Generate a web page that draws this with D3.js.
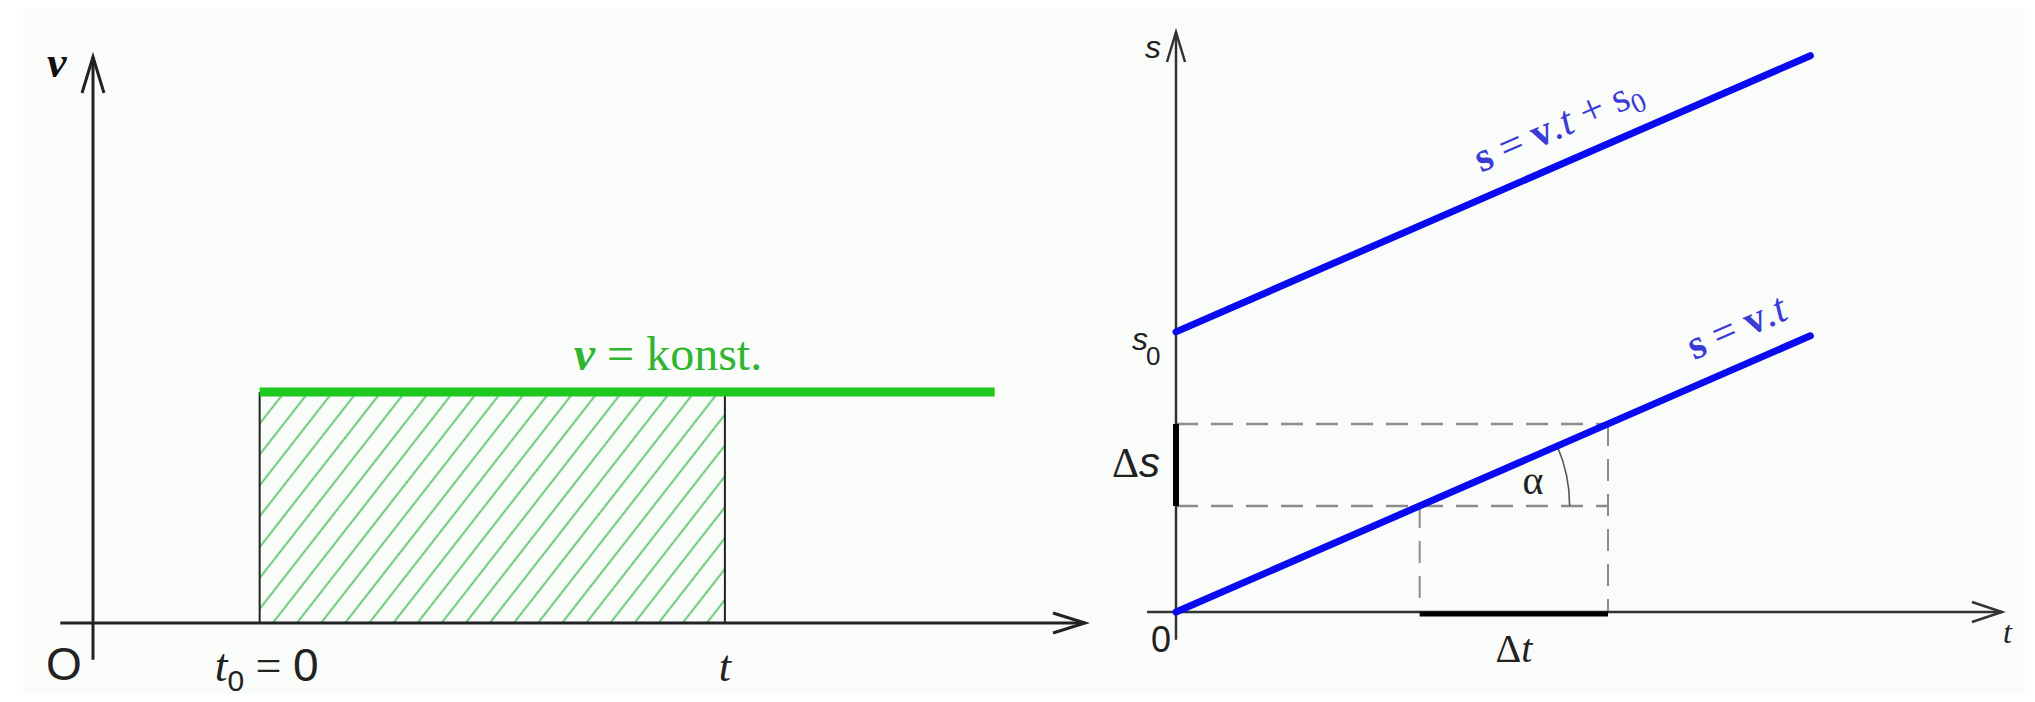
<!DOCTYPE html>
<html>
<head>
<meta charset="utf-8">
<script src="https://cdn.jsdelivr.net/npm/d3@7"></script>
<style>
  html, body { margin: 0; padding: 0; background: #fff; }
  svg { display: block; }
</style>
</head>
<body>
<svg id="chart" width="2035" height="702"></svg>
<script>
// --- left diagram: v(t) ---
const vAxisT = [-0.33, 10];
const vAxisV = [-0.65, 10];
const vConst = 4.08;
const vLineT = [1.68, 9.09];
const areaT = [1.68, 6.37];

// --- right diagram: s(t) ---
const sAxisT = [-0.35, 10];
const sAxisS = [-0.48, 10];
const speed = 0.62;
const lineEndT = 7.68;
const sLines = [
  { s0: 4.83, labelT: 3.81 },
  { s0: 0, labelT: 6.39 }
];
const deltaT = [2.95, 5.23];

const svg = d3.select("#chart");

svg.append("rect")
  .attr("x", 23).attr("y", 8)
  .attr("width", 2002).attr("height", 686)
  .attr("fill", "#fafcfa");

const xL = d3.scaleLinear().domain([0, 10]).range([93, 1085]);
const yL = d3.scaleLinear().domain([0, 10]).range([623, 57]);
const xR = d3.scaleLinear().domain([0, 10]).range([1176, 2002]);
const yR = d3.scaleLinear().domain([0, 10]).range([612, 32]);

const serif = "'Liberation Serif', 'Times New Roman', serif";
const sans = "'Liberation Sans', Arial, sans-serif";

// hatch pattern for the area under v
const defs = svg.append("defs");
defs.append("pattern")
  .attr("id", "hatch")
  .attr("patternUnits", "userSpaceOnUse")
  .attr("width", 19).attr("height", 19)
  .attr("patternTransform", "rotate(38)")
  .append("line")
  .attr("x1", 9.5).attr("y1", 0).attr("x2", 9.5).attr("y2", 19)
  .attr("stroke", "#4fc060").attr("stroke-width", 1.7);

// arrow helpers
function arrowX(g, x, y, len, half, color, w) {
  g.append("path")
    .attr("d", `M${x - len},${y - half}L${x},${y}L${x - len},${y + half}`)
    .attr("fill", "none").attr("stroke", color).attr("stroke-width", w);
}
function arrowY(g, x, y, len, half, color, w) {
  g.append("path")
    .attr("d", `M${x - half},${y + len}L${x},${y}L${x + half},${y + len}`)
    .attr("fill", "none").attr("stroke", color).attr("stroke-width", w);
}

// ===== left =====
const gL = svg.append("g");

gL.append("rect")
  .attr("x", xL(areaT[0])).attr("y", yL(vConst))
  .attr("width", xL(areaT[1]) - xL(areaT[0]))
  .attr("height", yL(0) - yL(vConst))
  .attr("fill", "url(#hatch)");

gL.selectAll(".edge")
  .data(areaT)
  .join("line")
  .attr("x1", d => xL(d)).attr("x2", d => xL(d))
  .attr("y1", yL(vConst)).attr("y2", yL(0))
  .attr("stroke", "#222").attr("stroke-width", 2);

gL.append("line")
  .attr("x1", xL(vAxisT[0])).attr("x2", xL(vAxisT[1]))
  .attr("y1", yL(0)).attr("y2", yL(0))
  .attr("stroke", "#222").attr("stroke-width", 3);
gL.append("line")
  .attr("x1", xL(0)).attr("x2", xL(0))
  .attr("y1", yL(vAxisV[0])).attr("y2", yL(vAxisV[1]))
  .attr("stroke", "#222").attr("stroke-width", 3);
arrowX(gL, xL(vAxisT[1]), yL(0), 32, 10, "#222", 3);
arrowY(gL, xL(0), yL(vAxisV[1]), 36, 11, "#222", 3);

gL.append("line")
  .attr("x1", xL(vLineT[0])).attr("x2", xL(vLineT[1]))
  .attr("y1", yL(vConst)).attr("y2", yL(vConst))
  .attr("stroke", "#1ec81e").attr("stroke-width", 9);

gL.append("text")
  .attr("x", xL(0) - 46).attr("y", yL(10) + 20)
  .attr("font-family", serif).attr("font-size", 44)
  .attr("font-weight", "bold").attr("font-style", "italic")
  .attr("fill", "#111").text("v");

const konst = gL.append("text")
  .attr("x", 668).attr("y", yL(vConst) - 22)
  .attr("text-anchor", "middle")
  .attr("font-family", serif).attr("font-size", 48)
  .attr("fill", "#2fb52f");
konst.append("tspan").attr("font-weight", "bold").attr("font-style", "italic").text("v");
konst.append("tspan").text(" = konst.");

gL.append("text")
  .attr("x", xL(0) - 29).attr("y", 680)
  .attr("text-anchor", "middle")
  .attr("font-family", sans).attr("font-size", 46)
  .attr("fill", "#222").text("O");

const t0 = gL.append("text")
  .attr("x", xL(areaT[0]) + 7).attr("y", 681)
  .attr("text-anchor", "middle")
  .attr("font-size", 46).attr("fill", "#222");
t0.append("tspan").attr("font-family", serif).attr("font-style", "italic").text("t");
t0.append("tspan").attr("font-family", sans).attr("font-size", 30).attr("dy", 10).text("0");
t0.append("tspan").attr("font-family", serif).attr("dy", -10).text(" = ");
t0.append("tspan").attr("font-family", sans).text("0");

gL.append("text")
  .attr("x", xL(areaT[1])).attr("y", 681)
  .attr("text-anchor", "middle")
  .attr("font-family", serif).attr("font-style", "italic")
  .attr("font-size", 44).attr("fill", "#222").text("t");

// ===== right =====
const gR = svg.append("g");

const dash = "22,13";
const s1 = speed * deltaT[0];
const s2 = speed * deltaT[1];

gR.selectAll(".hdash")
  .data([s2, s1])
  .join("line")
  .attr("x1", xR(0)).attr("x2", xR(deltaT[1]))
  .attr("y1", d => yR(d)).attr("y2", d => yR(d))
  .attr("stroke", "#8c8c8c").attr("stroke-width", 2.5)
  .attr("stroke-dasharray", dash);

gR.selectAll(".vdash")
  .data(deltaT)
  .join("line")
  .attr("x1", d => xR(d)).attr("x2", d => xR(d))
  .attr("y1", d => yR(speed * d)).attr("y2", yR(0))
  .attr("stroke", "#8c8c8c").attr("stroke-width", 2)
  .attr("stroke-dasharray", dash);

// axes
gR.append("line")
  .attr("x1", xR(sAxisT[0])).attr("x2", xR(sAxisT[1]))
  .attr("y1", yR(0)).attr("y2", yR(0))
  .attr("stroke", "#333").attr("stroke-width", 2.5);
gR.append("line")
  .attr("x1", xR(0)).attr("x2", xR(0))
  .attr("y1", yR(sAxisS[0])).attr("y2", yR(sAxisS[1]))
  .attr("stroke", "#333").attr("stroke-width", 2.5);
arrowX(gR, xR(sAxisT[1]), yR(0), 30, 10, "#333", 2.5);
arrowY(gR, xR(0), yR(sAxisS[1]), 30, 9, "#333", 2.5);

// delta markers
gR.append("line")
  .attr("x1", xR(0)).attr("x2", xR(0))
  .attr("y1", yR(s2)).attr("y2", yR(s1))
  .attr("stroke", "#000").attr("stroke-width", 6);
gR.append("line")
  .attr("x1", xR(deltaT[0])).attr("x2", xR(deltaT[1]))
  .attr("y1", yR(0) + 2).attr("y2", yR(0) + 2)
  .attr("stroke", "#000").attr("stroke-width", 5);

// angle arc
const ang = Math.atan2(yR(0) - yR(speed), xR(1) - xR(0));
const arcPath = d3.path();
arcPath.arc(xR(deltaT[0]), yR(s1), 150, -ang, 0);
gR.append("path")
  .attr("d", arcPath.toString())
  .attr("fill", "none").attr("stroke", "#555").attr("stroke-width", 1.6);

// s lines
const line = d3.line().x(d => xR(d[0])).y(d => yR(d[1]));
gR.selectAll(".sline")
  .data(sLines)
  .join("path")
  .attr("d", d => line([[0, d.s0], [lineEndT, d.s0 + speed * lineEndT]]))
  .attr("fill", "none").attr("stroke", "#0a0af0").attr("stroke-width", 7)
  .attr("stroke-linecap", "round");

const angDeg = ang * 180 / Math.PI;
const off = 24;
sLines.forEach(d => {
  const px = xR(d.labelT) - off * Math.sin(ang);
  const py = yR(d.s0 + speed * d.labelT) - off * Math.cos(ang);
  const txt = gR.append("text")
    .attr("transform", `translate(${px},${py}) rotate(${-angDeg})`)
    .attr("font-family", serif).attr("font-size", 42)
    .attr("fill", "#3b3bd6");
  txt.append("tspan").attr("font-weight", "bold").text("s");
  txt.append("tspan").text(" = ");
  txt.append("tspan").attr("font-weight", "bold").text("v");
  txt.append("tspan").attr("font-style", "italic").text(".t");
  if (d.s0 > 0) {
    txt.append("tspan").text(" + s");
    txt.append("tspan").attr("font-size", 28).attr("dy", 8).text("0");
  }
});

// right labels
gR.append("text")
  .attr("x", xR(0) - 15).attr("y", 58)
  .attr("text-anchor", "end")
  .attr("font-family", sans).attr("font-style", "italic")
  .attr("font-size", 32).attr("fill", "#222").text("s");

const s0lab = gR.append("text")
  .attr("x", 1132).attr("y", yR(sLines[0].s0) + 18)
  .attr("font-family", sans).attr("font-size", 32).attr("fill", "#222");
s0lab.append("tspan").attr("font-style", "italic").text("s");
s0lab.append("tspan").attr("font-size", 26).attr("dx", -2).attr("dy", 15).text("0");

gR.append("text")
  .attr("x", xR(0) - 15).attr("y", 652)
  .attr("text-anchor", "middle")
  .attr("font-family", sans).attr("font-size", 36)
  .attr("fill", "#222").text("0");

const ds = gR.append("text")
  .attr("x", 1112).attr("y", 477)
  .attr("font-size", 42).attr("fill", "#222");
ds.append("tspan").attr("font-family", serif).text("Δ");
ds.append("tspan").attr("font-family", sans).attr("font-style", "italic").text("s");

const dt = gR.append("text")
  .attr("x", (xR(deltaT[0]) + xR(deltaT[1])) / 2).attr("y", 662)
  .attr("text-anchor", "middle")
  .attr("font-size", 40).attr("fill", "#222").attr("font-family", serif);
dt.append("tspan").text("Δ");
dt.append("tspan").attr("font-style", "italic").text("t");

gR.append("text")
  .attr("x", 1533).attr("y", 494)
  .attr("text-anchor", "middle")
  .attr("font-family", serif).attr("font-size", 40)
  .attr("fill", "#222").text("α");

gR.append("text")
  .attr("x", 2003).attr("y", 643)
  .attr("font-family", serif).attr("font-style", "italic")
  .attr("font-size", 32).attr("fill", "#222").text("t");
</script>
</body>
</html>
